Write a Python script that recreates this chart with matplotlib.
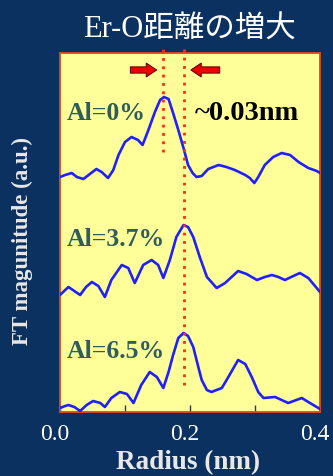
import matplotlib.pyplot as plt
from matplotlib.transforms import ScaledTranslation

# EXAFS Fourier transforms, offset per Al content
r_al0 = [0.0, 0.008, 0.018, 0.026, 0.036, 0.046, 0.056, 0.064, 0.074, 0.082, 0.090,
         0.100, 0.110, 0.120, 0.127, 0.136, 0.146, 0.154, 0.160, 0.167, 0.174,
         0.182, 0.190, 0.197, 0.204, 0.210, 0.218, 0.228, 0.244, 0.256, 0.269,
         0.285, 0.292, 0.299, 0.305, 0.315, 0.328, 0.341, 0.354, 0.367, 0.382,
         0.395, 0.4]
ft_al0 = [2.35, 2.37, 2.39, 2.35, 2.33, 2.38, 2.43, 2.40, 2.34, 2.42, 2.57,
          2.70, 2.75, 2.72, 2.67, 2.82, 3.00, 3.12, 3.15, 3.13, 2.99,
          2.82, 2.64, 2.47, 2.39, 2.35, 2.36, 2.43, 2.47, 2.45, 2.42,
          2.37, 2.34, 2.29, 2.35, 2.47, 2.55, 2.59, 2.57, 2.50, 2.44,
          2.41, 2.39]

r_al37 = [0.0, 0.008, 0.013, 0.022, 0.031, 0.040, 0.049, 0.059, 0.069, 0.079,
          0.095, 0.105, 0.115, 0.128, 0.141, 0.151, 0.159, 0.169, 0.179, 0.190,
          0.197, 0.205, 0.215, 0.226, 0.241, 0.254, 0.274, 0.287, 0.303, 0.315,
          0.326, 0.336, 0.346, 0.359, 0.369, 0.382, 0.4]
ft_al37 = [1.17, 1.22, 1.25, 1.21, 1.17, 1.25, 1.30, 1.26, 1.15, 1.32,
           1.47, 1.44, 1.29, 1.47, 1.52, 1.47, 1.34, 1.52, 1.75, 1.87,
           1.85, 1.75, 1.55, 1.35, 1.24, 1.29, 1.41, 1.38, 1.32, 1.35,
           1.37, 1.35, 1.32, 1.36, 1.39, 1.34, 1.20]

r_al65 = [0.0, 0.008, 0.013, 0.022, 0.031, 0.041, 0.051, 0.062, 0.069, 0.079,
          0.092, 0.103, 0.113, 0.125, 0.138, 0.149, 0.159, 0.167, 0.174, 0.182,
          0.190, 0.197, 0.205, 0.212, 0.218, 0.226, 0.233, 0.249, 0.259, 0.274,
          0.285, 0.295, 0.305, 0.313, 0.331, 0.351, 0.372, 0.382, 0.4]
ft_al65 = [0.04, 0.06, 0.07, 0.05, 0.01, 0.07, 0.11, 0.09, 0.05, 0.14,
           0.20, 0.18, 0.09, 0.27, 0.40, 0.35, 0.24, 0.40, 0.57, 0.74,
           0.79, 0.76, 0.65, 0.47, 0.32, 0.22, 0.20, 0.24, 0.35, 0.52,
           0.48, 0.35, 0.20, 0.14, 0.15, 0.09, 0.14, 0.10, 0.03]

labels = ["Al=0%", "Al=3.7%", "Al=6.5%"]
label_y = [2.99, 1.73, 0.60]

# Er-O peak positions (Al=0% vs doped)
peak_r = [0.158, 0.191]
peak_span = [(2.60, 3.65), (0.27, 3.65)]

navy = "#0b3161"
serif = "Liberation Serif"
fig = plt.figure(figsize=(3.33, 4.76), dpi=100, facecolor=navy)
ax = fig.add_axes([60 / 333, 64 / 476, 260 / 333, 359 / 476])
ax.set_facecolor("#ffff99")

for r, ft in [(r_al0, ft_al0), (r_al37, ft_al37), (r_al65, ft_al65)]:
    ax.plot(r, ft, color="#1f1fff", lw=1.9, solid_joinstyle="round",
            solid_capstyle="round", zorder=3)

for r, (y0, y1) in zip(peak_r, peak_span):
    ax.plot([r, r], [y0, y1], color="#ff2a10", lw=2.0,
            linestyle=(0, (1, 2)), clip_on=False, zorder=4)

for txt, y in zip(labels, label_y):
    ax.text(0.011, y, txt, fontsize=18.5, fontweight="bold", color="#2f5c5c",
            family=serif, va="center", ha="left", zorder=5)

ax.text(0.208, 2.99, "~0.03nm", fontsize=20.5, fontweight="bold", color="black",
        family=serif, va="center", ha="left")

arrow = dict(arrowstyle="simple,head_width=1.0,head_length=0.75,tail_width=0.45",
             fc="#ee0000", ec="#550000", lw=0.7)
ax.annotate("", xy=(0.153, 3.42), xytext=(0.104, 3.42), arrowprops=arrow)
ax.annotate("", xy=(0.197, 3.42), xytext=(0.250, 3.42), arrowprops=arrow)

ax.set_xlim(0, 0.4)
ax.set_ylim(0, 3.59)
ax.set_xticks([0.0, 0.2, 0.4])
ax.set_xticks([0.1, 0.3], minor=True)
ax.set_xticklabels(["0.0", "0.2", "0.4"])
ax.set_yticks([])
ax.tick_params(axis="x", which="both", direction="in", length=5, width=1,
               color="#333333", pad=9)
shift = ScaledTranslation(-5 / 100, 0, fig.dpi_scale_trans)
for lbl in ax.get_xticklabels():
    lbl.set_family(serif)
    lbl.set_fontsize(17)
    lbl.set_color("white")
    lbl.set_transform(lbl.get_transform() + shift)
for side in ax.spines.values():
    side.set_color("#e04a1a")
    side.set_linewidth(1.3)

fig.text(188 / 333, 1 - 463 / 476, "Radius (nm)", fontsize=19.5, fontweight="bold",
         color="#e8e8e8", family=serif, ha="center", va="center")
fig.text(22 / 333, 1 - 241 / 476, "FT magunitude (a.u.)", fontsize=16.5,
         fontweight="bold", color="#e8e8e8", family=serif, rotation=90,
         ha="center", va="center")

fig.text(189 / 333, 1 - 30 / 476, "Er-O距離の増大", fontsize=22, color="white",
         family=[serif, "Noto Sans CJK JP"], ha="center", va="center")

fig.savefig("out.png", dpi=100, facecolor=navy)
